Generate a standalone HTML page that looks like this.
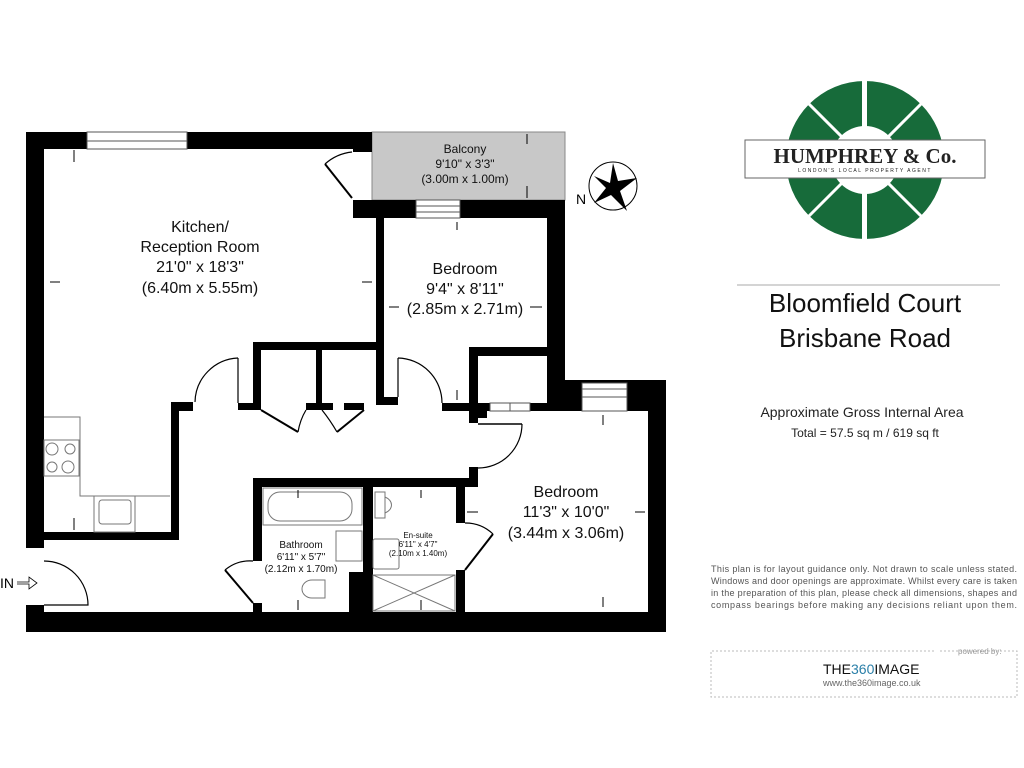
<!DOCTYPE html>
<html><head><meta charset="utf-8"><style>
html,body{margin:0;padding:0;background:#fff;width:1024px;height:768px;overflow:hidden}
svg{display:block;font-family:"Liberation Sans",sans-serif}
</style></head><body>
<svg width="1024" height="768" viewBox="0 0 1024 768">
<rect width="1024" height="768" fill="#fff"/>
<rect x="372" y="132" width="193" height="68" fill="#c8c8c8" stroke="#888" stroke-width="1"/>
<g fill="#000">
<rect x="26" y="132" width="18" height="416"/>
<rect x="26" y="605" width="18" height="27"/>
<rect x="26" y="132" width="61" height="17"/>
<rect x="187" y="132" width="185" height="17"/>
<rect x="353" y="132" width="19" height="20"/>
<rect x="353" y="200" width="63" height="18"/>
<rect x="460" y="200" width="105" height="18"/>
<rect x="547" y="200" width="18" height="200"/>
<rect x="376" y="200" width="8" height="205"/>
<rect x="376" y="397" width="22" height="8"/>
<rect x="253" y="342" width="131" height="8"/>
<rect x="253" y="342" width="8" height="68"/>
<rect x="316" y="342" width="6" height="68"/>
<rect x="238" y="403" width="23" height="7"/>
<rect x="306" y="403" width="27" height="7"/>
<rect x="344" y="403" width="20" height="7"/>
<rect x="171" y="402" width="22" height="9"/>
<rect x="171" y="402" width="8" height="138"/>
<rect x="44" y="532" width="135" height="8"/>
<rect x="469" y="347" width="9" height="76"/>
<rect x="469" y="347" width="78" height="9"/>
<rect x="442" y="403" width="36" height="8"/>
<rect x="478" y="403" width="12" height="8"/>
<rect x="530" y="403" width="35" height="8"/>
<rect x="478" y="410" width="9" height="8"/>
<rect x="547" y="380" width="35" height="31"/>
<rect x="627" y="380" width="39" height="31"/>
<rect x="648" y="380" width="18" height="252"/>
<rect x="582" y="380" width="45" height="3"/>
<rect x="253" y="478" width="225" height="9"/>
<rect x="469" y="467" width="9" height="20"/>
<rect x="253" y="478" width="9" height="83"/>
<rect x="253" y="603" width="9" height="12"/>
<rect x="363" y="487" width="10" height="125"/>
<rect x="349" y="572" width="24" height="40"/>
<rect x="456" y="487" width="9" height="36"/>
<rect x="456" y="570" width="9" height="42"/>
<rect x="26" y="612" width="640" height="20"/>
</g>
<g fill="#fff" stroke="#555" stroke-width="1">
<rect x="87" y="132" width="100" height="17"/><line x1="87" y1="141" x2="187" y2="141"/>
<rect x="416" y="200" width="44" height="18"/><line x1="416" y1="206" x2="460" y2="206"/><line x1="416" y1="212" x2="460" y2="212"/>
<rect x="582" y="383" width="45" height="28"/><line x1="582" y1="389" x2="627" y2="389"/><line x1="582" y1="397" x2="627" y2="397"/>
<rect x="490" y="403" width="40" height="8"/><line x1="510" y1="403" x2="510" y2="411"/>
</g>
<g fill="none" stroke="#000" stroke-width="1.2">
<path d="M352 152 A48 48 0 0 0 325 164"/><line x1="325" y1="164" x2="352" y2="198" stroke-width="2"/>
<path d="M238 358 A45 45 0 0 0 195 402"/><line x1="238" y1="358" x2="238" y2="403"/>
<path d="M398 358 A45 45 0 0 1 442 403"/><line x1="398" y1="358" x2="398" y2="397"/>
<path d="M306 410 Q300 420 298 432"/><line x1="261" y1="410" x2="298" y2="432" stroke-width="2"/>
<path d="M322 410 Q330 420 337 432"/><line x1="364" y1="410" x2="337" y2="432" stroke-width="2"/>
<line x1="478" y1="424" x2="522" y2="424" stroke-width="1.5"/>
<path d="M522 424 A44 44 0 0 1 478 468"/>
<path d="M44 561 A44 44 0 0 1 88 605 L44 605"/>
<path d="M253 561 A38 38 0 0 0 225 570"/><line x1="225" y1="570" x2="253" y2="603" stroke-width="2"/>
<path d="M465 523 A40 40 0 0 1 493 534"/><line x1="493" y1="534" x2="465" y2="570" stroke-width="2"/>
</g>
<g fill="none" stroke="#777" stroke-width="1">
<path d="M44 417 H80 V496 H170"/>
<rect x="44" y="440" width="35" height="36"/>
<circle cx="52" cy="449" r="6"/><circle cx="70" cy="449" r="5"/><circle cx="52" cy="467" r="5"/><circle cx="68" cy="467" r="6"/>
<rect x="94" y="496" width="41" height="36"/><rect x="99" y="500" width="32" height="24" rx="3"/>
<rect x="263" y="488" width="99" height="37"/><rect x="268" y="492" width="84" height="29" rx="12"/>
<rect x="336" y="531" width="26" height="30"/>
<path d="M312 580 h13 v18 h-13 a10 9 0 0 1 0 -18z"/>
<path d="M375 492 h10 v26 h-10z M385 497 a12 9 0 0 1 0 16"/>
<rect x="373" y="539" width="26" height="30" rx="2"/>
<rect x="373" y="575" width="82" height="36"/><path d="M373 575 L455 611 M455 575 L373 611"/>
</g>
<g stroke="#000" stroke-width="1">
<line x1="74" y1="150" x2="74" y2="162"/><line x1="50" y1="282" x2="60" y2="282"/><line x1="362" y1="282" x2="372" y2="282"/>
<line x1="74" y1="518" x2="74" y2="530"/><line x1="457" y1="222" x2="457" y2="230"/><line x1="457" y1="390" x2="457" y2="400"/>
<line x1="389" y1="307" x2="399" y2="307"/><line x1="530" y1="307" x2="542" y2="307"/>
<line x1="527" y1="134" x2="527" y2="144"/><line x1="527" y1="186" x2="527" y2="198"/>
<line x1="603" y1="415" x2="603" y2="425"/><line x1="603" y1="597" x2="603" y2="607"/><line x1="635" y1="512" x2="645" y2="512"/><line x1="467" y1="512" x2="478" y2="512"/>
<line x1="298" y1="490" x2="298" y2="498"/><line x1="298" y1="600" x2="298" y2="610"/><line x1="421" y1="490" x2="421" y2="498"/><line x1="421" y1="600" x2="421" y2="610"/>
</g>
<text x="0" y="588" font-size="14">IN</text>
<path d="M17 582 h12 v-5 l8 6 l-8 6 v-5 h-12" fill="none" stroke="#000" stroke-width="0.8"/>
<g text-anchor="middle" fill="#111">
<text x="200" y="232" font-size="16">Kitchen/</text>
<text x="200" y="252" font-size="16">Reception Room</text>
<text x="200" y="272" font-size="16">21'0" x 18'3"</text>
<text x="200" y="293" font-size="16">(6.40m x 5.55m)</text>
<text x="465" y="153" font-size="12">Balcony</text>
<text x="465" y="168" font-size="12">9'10" x 3'3"</text>
<text x="465" y="183" font-size="12">(3.00m x 1.00m)</text>
<text x="465" y="274" font-size="16">Bedroom</text>
<text x="465" y="294" font-size="16">9'4" x 8'11"</text>
<text x="465" y="314" font-size="16">(2.85m x 2.71m)</text>
<text x="566" y="497" font-size="16">Bedroom</text>
<text x="566" y="517" font-size="16">11'3" x 10'0"</text>
<text x="566" y="538" font-size="16">(3.44m x 3.06m)</text>
<text x="301" y="548" font-size="10">Bathroom</text>
<text x="301" y="560" font-size="10">6'11" x 5'7"</text>
<text x="301" y="572" font-size="10">(2.12m x 1.70m)</text>
<text x="418" y="538" font-size="8">En-suite</text>
<text x="418" y="547" font-size="8">6'11" x 4'7"</text>
<text x="418" y="556" font-size="8">(2.10m x 1.40m)</text>
</g>
<circle cx="613" cy="186" r="24" fill="none" stroke="#000" stroke-width="1"/>
<path d="M613 163 L618 181 L637 178 L620 191 L627 211 L611 195 L594 203 L606 188 L594 176 L610 183Z" fill="#000"/>
<text x="576" y="204" font-size="14">N</text>
<circle cx="865" cy="160" r="79" fill="#176b3a"/>
<rect x="862" y="78" width="5" height="164" fill="#fff"/>
<g stroke="#fff" stroke-width="3">
<line x1="865" y1="160" x2="800" y2="95"/><line x1="865" y1="160" x2="930" y2="95"/>
<line x1="865" y1="160" x2="800" y2="225"/><line x1="865" y1="160" x2="930" y2="225"/>
</g>
<circle cx="865" cy="160" r="34" fill="#fff"/>
<rect x="745" y="140" width="240" height="38" fill="#fff" stroke="#666" stroke-width="1"/>
<text x="865" y="163" text-anchor="middle" font-family="Liberation Serif,serif" font-size="21" font-weight="bold" fill="#222">HUMPHREY &amp; Co.</text>
<text x="865" y="172" text-anchor="middle" font-size="5" fill="#222" letter-spacing="1.5">LONDON'S LOCAL PROPERTY AGENT</text>
<line x1="737" y1="285" x2="1000" y2="285" stroke="#aaa"/>
<text x="865" y="312" text-anchor="middle" font-size="26" fill="#111">Bloomfield Court</text>
<text x="865" y="347" text-anchor="middle" font-size="26" fill="#111">Brisbane Road</text>
<text x="862" y="417" text-anchor="middle" font-size="14" fill="#222">Approximate Gross Internal Area</text>
<text x="865" y="437" text-anchor="middle" font-size="12" fill="#222">Total = 57.5 sq m / 619 sq ft</text>
<g font-size="9" fill="#555">
<text x="711" y="572" textLength="306">This plan is for layout guidance only. Not drawn to scale unless stated.</text>
<text x="711" y="584" textLength="306">Windows and door openings are approximate. Whilst every care is taken</text>
<text x="711" y="596" textLength="306">in the preparation of this plan, please check all dimensions, shapes and</text>
<text x="711" y="608" textLength="306">compass bearings before making any decisions reliant upon them.</text>
</g>
<path d="M940 651 H1017 V697 H711 V651 H935" fill="none" stroke="#bbb" stroke-dasharray="2,2"/>
<text x="958" y="654" font-size="8" fill="#999">powered by:</text>
<text x="823" y="674" font-size="14" fill="#111">THE<tspan fill="#2a7fa8">360</tspan>IMAGE</text>
<text x="823" y="686" font-size="9" fill="#666">www.the360image.co.uk</text>
</svg>
</body></html>
